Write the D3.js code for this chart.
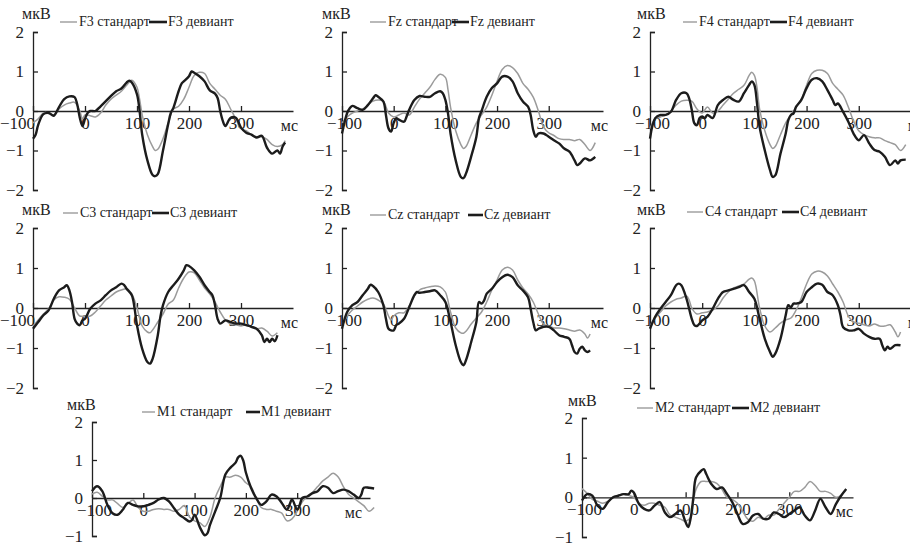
<!DOCTYPE html>
<html>
<head>
<meta charset="utf-8">
<script src="https://cdn.jsdelivr.net/npm/d3@7"></script>
<style>
  body { margin: 0; background: #fff; }
  .axis path, .axis line { stroke: #222; stroke-width: 1.3; }
</style>
</head>
<body>
<div id="chart"></div>
<script>
var svgWidth = 910;
var svgHeight = 544;
var serif = "'Liberation Serif', 'Times New Roman', 'DejaVu Serif', serif";

// time ticks shared by every panel
var timeTicks = [-100, 0, 100, 200, 300];

// F3 [ms, mkV]
var f3Standard = [[-100,-0.3],[-90,-0.2],[-80,-0.05],[-70,-0.05],[-60,-0.1],[-50,0.05],[-40,0.15],[-30,0.2],[-20,0.22],[-10,0.0],[-5,-0.2],[0,-0.1],[10,-0.12],[20,-0.15],[30,-0.05],[40,0.15],[50,0.3],[60,0.4],[70,0.5],[80,0.65],[90,0.78],[100,0.6],[105,0.3],[110,-0.1],[120,-0.6],[130,-0.9],[135,-1.0],[140,-0.97],[150,-0.7],[160,-0.3],[170,0.05],[180,0.12],[190,0.3],[200,0.6],[210,0.9],[220,0.98],[230,0.95],[240,0.7],[250,0.55],[260,0.4],[270,0.3],[280,0.05],[290,-0.2],[300,-0.45],[310,-0.5],[320,-0.6],[330,-0.65],[340,-0.65],[350,-0.72],[360,-0.85],[370,-0.9],[380,-0.85],[385,-0.75]];
var f3Deviant = [[-100,-0.7],[-95,-0.6],[-90,-0.35],[-80,-0.08],[-70,-0.05],[-60,-0.12],[-50,0.1],[-40,0.3],[-30,0.37],[-20,0.35],[-15,0.17],[-10,-0.17],[-5,-0.38],[0,-0.2],[5,-0.05],[10,0],[20,0],[30,0.12],[40,0.25],[50,0.38],[60,0.5],[70,0.57],[80,0.72],[85,0.77],[90,0.72],[100,0.42],[105,0],[110,-0.6],[120,-1.25],[130,-1.62],[135,-1.65],[140,-1.6],[150,-1.0],[160,-0.33],[165,-0.05],[170,0.08],[180,0.5],[186,0.7],[190,0.75],[200,0.88],[205,1.0],[210,0.97],[220,0.88],[230,0.75],[240,0.52],[250,0.44],[255,0.33],[260,0],[265,-0.25],[270,-0.38],[280,-0.17],[290,-0.17],[300,-0.42],[310,-0.55],[320,-0.6],[330,-0.67],[340,-0.63],[350,-0.93],[360,-1.08],[370,-1.0],[375,-1.08],[380,-0.9],[385,-0.8]];

// Fz
var fzStandard = [[-100,-0.3],[-90,-0.15],[-80,-0.05],[-70,0.0],[-60,0.05],[-50,0.15],[-40,0.25],[-30,0.28],[-20,0.25],[-10,-0.05],[0,-0.15],[10,-0.1],[20,-0.05],[30,-0.1],[40,0.1],[50,0.3],[60,0.45],[70,0.6],[80,0.8],[90,0.93],[100,0.85],[105,0.55],[110,0.1],[120,-0.5],[130,-0.85],[135,-0.95],[140,-0.9],[150,-0.6],[160,-0.3],[170,-0.1],[180,0.1],[190,0.4],[200,0.75],[210,1.05],[220,1.15],[230,1.1],[240,0.95],[250,0.7],[260,0.55],[270,0.35],[280,0.0],[290,-0.4],[300,-0.55],[310,-0.62],[320,-0.7],[330,-0.72],[340,-0.72],[350,-0.75],[360,-0.72],[370,-0.85],[380,-1.0],[390,-0.8]];
var fzDeviant = [[-100,-0.57],[-90,-0.05],[-85,0.07],[-80,0.13],[-70,0.07],[-60,0.03],[-50,0.15],[-40,0.32],[-35,0.4],[-30,0.36],[-20,0.24],[-15,-0.1],[-10,-0.44],[-5,-0.52],[0,-0.3],[5,-0.18],[10,-0.22],[20,-0.27],[25,-0.14],[30,0.03],[40,0.28],[50,0.38],[60,0.36],[70,0.36],[80,0.45],[90,0.5],[95,0.45],[100,0.28],[105,-0.05],[110,-0.57],[120,-1.25],[130,-1.67],[135,-1.7],[140,-1.58],[150,-1.15],[160,-0.65],[165,-0.18],[170,0],[180,0.36],[190,0.58],[200,0.7],[210,0.87],[220,0.87],[230,0.75],[240,0.45],[250,0.24],[260,0.11],[265,-0.1],[270,-0.48],[275,-0.65],[280,-0.57],[290,-0.57],[300,-0.65],[310,-0.74],[320,-0.82],[330,-0.95],[340,-1.03],[350,-1.25],[355,-1.37],[360,-1.33],[370,-1.2],[380,-1.25],[390,-1.16]];

// F4
var f4Standard = [[-100,-0.45],[-90,-0.2],[-80,-0.15],[-70,-0.1],[-60,0.0],[-50,0.15],[-40,0.25],[-30,0.27],[-20,0.25],[-10,0.05],[0,-0.05],[10,0.1],[20,-0.05],[30,0.0],[40,0.15],[50,0.3],[60,0.45],[70,0.55],[80,0.65],[90,0.9],[95,0.98],[100,0.9],[105,0.6],[110,0.05],[120,-0.5],[130,-0.85],[135,-0.95],[140,-0.9],[150,-0.6],[160,-0.3],[170,-0.1],[180,0.1],[190,0.3],[200,0.65],[210,0.95],[220,1.03],[230,1.03],[240,0.95],[250,0.7],[260,0.55],[270,0.4],[280,0.1],[290,-0.25],[300,-0.5],[310,-0.6],[320,-0.65],[330,-0.68],[340,-0.68],[350,-0.75],[360,-0.8],[370,-0.85],[380,-1.0],[390,-0.85]];
var f4Deviant = [[-100,-0.7],[-90,-0.18],[-80,-0.1],[-70,-0.1],[-60,-0.02],[-50,0.28],[-40,0.45],[-30,0.45],[-25,0.32],[-20,0.03],[-15,-0.31],[-10,-0.36],[-5,-0.18],[0,-0.14],[5,-0.18],[10,-0.1],[20,-0.18],[30,0.15],[40,0.28],[50,0.36],[60,0.28],[70,0.24],[80,0.45],[90,0.66],[95,0.75],[100,0.66],[105,0.2],[110,-0.4],[120,-1.0],[130,-1.5],[135,-1.67],[140,-1.63],[150,-1.08],[160,-0.57],[165,-0.23],[170,-0.1],[175,-0.06],[180,0.11],[190,0.28],[200,0.58],[210,0.79],[220,0.83],[230,0.75],[240,0.53],[250,0.28],[255,0.15],[260,0.19],[270,-0.02],[280,-0.27],[290,-0.57],[300,-0.74],[310,-0.61],[320,-0.82],[330,-0.99],[340,-1.03],[350,-1.16],[360,-1.37],[370,-1.25],[375,-1.33],[380,-1.25],[390,-1.23]];

// C3
var c3Standard = [[-100,-0.45],[-90,-0.3],[-80,-0.15],[-70,-0.02],[-60,0.2],[-50,0.28],[-40,0.27],[-30,0.22],[-20,0.0],[-10,-0.2],[0,-0.2],[10,-0.2],[20,-0.1],[30,0.05],[40,0.2],[50,0.3],[60,0.4],[70,0.45],[80,0.48],[90,0.35],[100,0.0],[110,-0.45],[120,-0.6],[125,-0.62],[130,-0.55],[140,-0.35],[150,-0.15],[160,0.1],[170,0.2],[180,0.5],[190,0.75],[200,0.9],[210,0.88],[220,0.7],[230,0.5],[240,0.35],[250,0.15],[260,-0.1],[270,-0.3],[280,-0.4],[290,-0.42],[300,-0.45],[310,-0.42],[320,-0.48],[330,-0.52],[340,-0.5],[350,-0.58],[360,-0.7],[370,-0.62]];
var c3Deviant = [[-100,-0.52],[-90,-0.35],[-80,-0.18],[-70,-0.06],[-60,0.23],[-50,0.44],[-40,0.52],[-35,0.57],[-30,0.44],[-25,0.15],[-20,-0.27],[-15,-0.39],[-10,-0.43],[-5,-0.31],[0,-0.27],[10,-0.02],[20,0.11],[30,0.19],[40,0.32],[50,0.44],[60,0.52],[70,0.61],[75,0.58],[80,0.48],[90,0.32],[95,0.02],[100,-0.43],[110,-1.02],[120,-1.35],[125,-1.39],[130,-1.27],[140,-0.68],[145,-0.22],[150,0.07],[160,0.4],[170,0.57],[180,0.73],[190,0.94],[195,1.07],[200,1.05],[210,0.94],[220,0.78],[230,0.57],[240,0.4],[245,0.32],[250,0.07],[255,-0.27],[260,-0.39],[270,-0.31],[280,-0.35],[290,-0.39],[300,-0.39],[310,-0.43],[320,-0.47],[330,-0.52],[340,-0.68],[345,-0.85],[350,-0.77],[355,-0.85],[360,-0.77],[365,-0.83],[370,-0.68]];

// Cz
var czStandard = [[-100,-0.45],[-90,-0.2],[-80,-0.05],[-70,0.05],[-60,0.15],[-50,0.22],[-40,0.25],[-30,0.2],[-20,0.1],[-10,-0.2],[-5,-0.3],[0,-0.2],[10,-0.12],[20,-0.12],[30,0.05],[40,0.3],[50,0.45],[60,0.5],[70,0.53],[80,0.55],[90,0.53],[100,0.4],[110,-0.1],[120,-0.5],[130,-0.62],[135,-0.63],[140,-0.58],[150,-0.4],[160,-0.25],[170,-0.1],[180,0.15],[190,0.45],[200,0.7],[210,0.95],[220,1.02],[230,0.95],[240,0.7],[250,0.5],[260,0.35],[270,0.15],[280,-0.15],[290,-0.4],[300,-0.45],[310,-0.5],[320,-0.5],[330,-0.52],[340,-0.55],[350,-0.58],[360,-0.55],[370,-0.65],[375,-0.75],[380,-0.65]];
var czDeviant = [[-100,-0.52],[-90,-0.1],[-80,0.07],[-70,0.15],[-60,0.32],[-50,0.48],[-45,0.58],[-40,0.55],[-30,0.4],[-20,0.07],[-15,-0.27],[-10,-0.52],[-5,-0.56],[0,-0.56],[5,-0.43],[10,-0.39],[20,-0.27],[30,0.02],[40,0.32],[45,0.4],[50,0.38],[60,0.4],[70,0.42],[80,0.44],[90,0.32],[100,0.15],[110,-0.35],[120,-0.93],[130,-1.35],[135,-1.43],[140,-1.3],[150,-0.85],[160,-0.35],[165,0.15],[170,0.11],[175,0.19],[180,0.36],[190,0.48],[200,0.65],[210,0.77],[220,0.83],[230,0.77],[240,0.57],[250,0.44],[260,0.27],[265,-0.02],[270,-0.35],[275,-0.56],[280,-0.52],[290,-0.47],[300,-0.47],[310,-0.56],[320,-0.68],[330,-0.72],[340,-0.77],[345,-0.93],[350,-1.1],[355,-1.14],[360,-1.02],[365,-0.97],[370,-1.06],[375,-1.1],[380,-1.06]];

// C4
var c4Standard = [[-100,-0.45],[-90,-0.25],[-80,-0.1],[-70,0.05],[-60,0.15],[-50,0.22],[-40,0.25],[-30,0.3],[-25,0.2],[-20,0.0],[-10,-0.15],[0,-0.12],[10,-0.1],[20,-0.05],[30,0.05],[40,0.25],[50,0.4],[60,0.5],[70,0.55],[80,0.6],[90,0.72],[95,0.75],[100,0.68],[110,0.0],[120,-0.45],[130,-0.6],[140,-0.5],[150,-0.38],[160,-0.3],[170,-0.25],[180,-0.05],[190,0.25],[200,0.6],[210,0.85],[220,0.92],[230,0.9],[240,0.8],[250,0.6],[260,0.4],[270,0.15],[280,-0.2],[290,-0.35],[300,-0.38],[310,-0.42],[320,-0.45],[330,-0.4],[340,-0.45],[350,-0.45],[360,-0.42],[370,-0.6],[375,-0.72],[380,-0.6]];
var c4Deviant = [[-100,-0.52],[-90,-0.22],[-80,-0.02],[-70,0.15],[-60,0.32],[-50,0.57],[-45,0.61],[-40,0.57],[-30,0.23],[-20,-0.27],[-15,-0.43],[-10,-0.45],[-5,-0.39],[0,-0.31],[10,-0.22],[20,-0.02],[30,0.23],[40,0.4],[50,0.44],[60,0.48],[70,0.52],[80,0.57],[90,0.4],[100,0.23],[110,-0.27],[120,-0.77],[130,-1.1],[135,-1.22],[140,-1.14],[150,-0.77],[160,-0.18],[165,0.07],[170,0.02],[175,0.11],[180,0.11],[190,0.15],[200,0.4],[210,0.52],[220,0.61],[230,0.58],[240,0.4],[250,0.32],[260,0.07],[265,-0.18],[270,-0.48],[280,-0.56],[290,-0.56],[300,-0.52],[310,-0.64],[320,-0.72],[330,-0.77],[340,-0.77],[345,-0.93],[350,-1.06],[355,-0.97],[360,-1.02],[370,-0.93],[380,-0.93]];

// M1
var m1Standard = [[-100,0.1],[-90,0.15],[-80,0.05],[-70,-0.05],[-60,-0.05],[-50,-0.15],[-40,-0.25],[-30,-0.15],[-20,-0.05],[-10,-0.25],[0,-0.35],[10,-0.35],[20,-0.3],[30,-0.28],[40,-0.3],[50,-0.3],[60,-0.35],[70,-0.3],[80,-0.2],[90,-0.5],[100,-0.6],[110,-0.65],[120,-0.75],[130,-0.5],[140,0.0],[150,0.3],[160,0.55],[170,0.55],[180,0.6],[190,0.55],[200,0.4],[210,0.3],[220,0.0],[230,-0.25],[240,-0.3],[250,-0.3],[260,-0.35],[270,-0.4],[280,-0.6],[290,-0.55],[300,-0.35],[310,-0.1],[320,0.05],[330,0.15],[340,0.3],[350,0.45],[360,0.55],[370,0.65],[380,0.55],[390,0.3],[400,0.1],[410,0.0],[420,-0.1],[430,-0.2],[440,-0.35],[450,-0.25]];
var m1Deviant = [[-100,0.18],[-90,0.31],[-80,0.18],[-70,-0.18],[-60,-0.4],[-50,-0.44],[-40,-0.31],[-30,-0.13],[-20,-0.18],[-10,-0.22],[0,-0.22],[10,-0.18],[20,-0.13],[30,-0.04],[40,0],[50,-0.09],[60,-0.27],[70,-0.44],[80,-0.53],[90,-0.62],[95,-0.58],[100,-0.44],[110,-0.76],[120,-0.98],[125,-0.93],[130,-0.71],[140,-0.36],[150,0],[160,0.62],[170,0.8],[180,0.93],[185,1.07],[190,1.11],[195,0.98],[200,0.67],[210,0.27],[220,0],[230,-0.18],[240,-0.09],[250,0.09],[260,0.04],[270,-0.13],[280,-0.31],[285,-0.18],[290,-0.04],[300,-0.31],[305,-0.18],[310,0],[320,0.04],[330,0.13],[340,0.18],[350,0.31],[360,0.27],[370,0.13],[380,0.18],[390,0.22],[400,0.18],[410,0.09],[420,0],[425,0.09],[430,0.27],[440,0.27],[450,0.25]];

// M2
var m2Standard = [[-100,0.22],[-90,0.1],[-80,-0.05],[-70,-0.1],[-60,-0.15],[-50,-0.1],[-40,0.0],[-30,0.05],[-20,0.08],[-10,0.05],[0,0.0],[10,-0.15],[20,-0.2],[30,-0.15],[40,-0.15],[50,-0.2],[60,-0.25],[70,-0.45],[80,-0.5],[90,-0.55],[100,-0.6],[110,-0.5],[115,-0.1],[120,0.2],[130,0.4],[140,0.4],[150,0.4],[160,0.35],[170,0.2],[180,0.0],[190,-0.05],[200,-0.15],[210,-0.35],[220,-0.55],[230,-0.6],[240,-0.5],[250,-0.55],[260,-0.45],[270,-0.45],[280,-0.3],[290,-0.15],[300,0.0],[310,0.15],[320,0.15],[330,0.25],[340,0.4],[350,0.3],[360,0.15],[370,0.15],[380,0.1],[390,0.0],[400,0.05]];
var m2Deviant = [[-100,-0.08],[-90,0.08],[-80,0.04],[-70,-0.21],[-60,-0.29],[-50,-0.12],[-40,0],[-30,0.04],[-20,0.08],[-10,0.08],[-5,0.17],[0,0.12],[10,-0.17],[20,-0.29],[30,-0.33],[40,-0.21],[50,-0.12],[60,-0.38],[70,-0.5],[80,-0.42],[90,-0.33],[100,-0.63],[105,-0.75],[110,-0.5],[115,0],[120,0.5],[130,0.67],[135,0.71],[140,0.58],[150,0.33],[160,0.21],[170,0.25],[180,0.08],[190,-0.12],[200,-0.42],[210,-0.67],[220,-0.63],[230,-0.46],[240,-0.42],[250,-0.54],[260,-0.54],[270,-0.38],[280,-0.42],[290,-0.5],[300,-0.42],[310,-0.33],[320,-0.25],[330,-0.46],[340,-0.58],[350,-0.33],[360,-0.04],[370,-0.25],[380,-0.42],[390,-0.17],[400,0.04],[410,0.21]];

// Panel layout (positions only)
var panels = [
  {name: "F3", std: f3Standard, dev: f3Deviant, axisX: 33, xEnd: 293, tMax: 400, yTop: 32, yBottom: 190, yMin: -2, unit: [22, 19], leg: [60, 79, 149, 168], legY: 26, msX: 298, firstDx: -16},
  {name: "Fz", std: fzStandard, dev: fzDeviant, axisX: 342, xEnd: 603, tMax: 405, yTop: 32, yBottom: 190, yMin: -2, unit: [322, 19], leg: [370, 388, 452, 470], legY: 26, msX: 608, firstDx: 2},
  {name: "F4", std: f4Standard, dev: f4Deviant, axisX: 650, xEnd: 912, tMax: 402, yTop: 32, yBottom: 190, yMin: -2, unit: [637, 19], leg: [683, 699, 770, 788], legY: 26, msX: 925, firstDx: 2},
  {name: "C3", std: c3Standard, dev: c3Deviant, axisX: 33, xEnd: 293, tMax: 400, yTop: 228, yBottom: 388, yMin: -2, unit: [22, 215], leg: [63, 80, 152, 170], legY: 217, msX: 298, firstDx: -16},
  {name: "Cz", std: czStandard, dev: czDeviant, axisX: 342, xEnd: 603, tMax: 405, yTop: 228, yBottom: 388, yMin: -2, unit: [322, 215], leg: [370, 388, 468, 484], legY: 219, msX: 608, firstDx: 2},
  {name: "C4", std: c4Standard, dev: c4Deviant, axisX: 650, xEnd: 912, tMax: 402, yTop: 228, yBottom: 388, yMin: -2, unit: [637, 215], leg: [687, 705, 782, 800], legY: 216, msX: 925, firstDx: 2},
  {name: "M1", std: m1Standard, dev: m1Deviant, axisX: 92, xEnd: 370, tMax: 442, yTop: 422, yBottom: 536, yMin: -1, unit: [67, 410], leg: [142, 157, 246, 261], legY: 416, msX: 362, firstDx: 2},
  {name: "M2", std: m2Standard, dev: m2Deviant, axisX: 582, xEnd: 853, tMax: 423, yTop: 418, yBottom: 537, yMin: -1, unit: [568, 406], leg: [637, 655, 732, 750], legY: 412, msX: 853, firstDx: 2}
];

var svg = d3.select("#chart")
  .append("svg")
  .attr("width", svgWidth)
  .attr("height", svgHeight)
  .attr("font-family", serif);

var minusFormat = function(d) { return d < 0 ? "\u2212" + Math.abs(d) : String(d); };

panels.forEach(function(p) {
  var g = svg.append("g");

  // Scales
  var xScale = d3.scaleLinear()
    .domain([-100, p.tMax])
    .range([p.axisX, p.xEnd]);

  var yScale = d3.scaleLinear()
    .domain([p.yMin, 2])
    .range([p.yBottom, p.yTop]);

  var yTicks = d3.range(p.yMin, 3);

  // Axes
  var bottomAxis = d3.axisBottom(xScale)
    .tickValues(timeTicks)
    .tickSizeInner(-5)
    .tickSizeOuter(0)
    .tickPadding(6)
    .tickFormat(minusFormat);

  var leftAxis = d3.axisLeft(yScale)
    .tickValues(yTicks)
    .tickSizeInner(-5)
    .tickSizeOuter(-5)
    .tickPadding(9)
    .tickFormat(minusFormat);

  var xAxisG = g.append("g")
    .attr("class", "axis")
    .attr("transform", `translate(0, ${yScale(0)})`)
    .call(bottomAxis);
  xAxisG.selectAll(".tick text")
    .attr("dx", function(d) { return d === -100 ? p.firstDx : 0; });

  g.append("g")
    .attr("class", "axis")
    .attr("transform", `translate(${p.axisX}, 0)`)
    .call(leftAxis);

  g.selectAll(".axis")
    .attr("font-family", serif)
    .attr("font-size", 17);
  g.selectAll(".axis text").attr("fill", "#222");

  // Lines
  var line = d3.line()
    .x(function(d) { return xScale(d[0]); })
    .y(function(d) { return yScale(d[1]); })
    .curve(d3.curveCatmullRom.alpha(0.5));

  g.append("path")
    .datum(p.std)
    .attr("d", line)
    .attr("fill", "none")
    .attr("stroke", "#9b9b9b")
    .attr("stroke-width", 1.5);

  g.append("path")
    .datum(p.dev)
    .attr("d", line)
    .attr("fill", "none")
    .attr("stroke", "#1c1c1c")
    .attr("stroke-width", 2.4)
    .attr("stroke-linejoin", "round");

  // Unit labels
  g.append("text")
    .attr("x", p.unit[0])
    .attr("y", p.unit[1])
    .attr("font-size", "16px")
    .attr("fill", "#222")
    .text("мкВ");

  g.append("text")
    .attr("x", p.msX)
    .attr("y", yScale(0) + 20)
    .attr("text-anchor", "end")
    .attr("font-size", "16px")
    .attr("fill", "#222")
    .text("мс");

  // Legend
  g.append("line")
    .attr("x1", p.leg[0]).attr("x2", p.leg[1] - 2)
    .attr("y1", p.legY - 4).attr("y2", p.legY - 4)
    .attr("stroke", "#9b9b9b")
    .attr("stroke-width", 1.4);
  g.append("text")
    .attr("x", p.leg[1])
    .attr("y", p.legY)
    .attr("font-size", "14px")
    .attr("fill", "#222")
    .text(p.name + " стандарт");
  g.append("line")
    .attr("x1", p.leg[2]).attr("x2", p.leg[3] - 1)
    .attr("y1", p.legY - 4).attr("y2", p.legY - 4)
    .attr("stroke", "#1c1c1c")
    .attr("stroke-width", 2.6);
  g.append("text")
    .attr("x", p.leg[3])
    .attr("y", p.legY)
    .attr("font-size", "14px")
    .attr("fill", "#222")
    .text(p.name + " девиант");
});
</script>
</body>
</html>
